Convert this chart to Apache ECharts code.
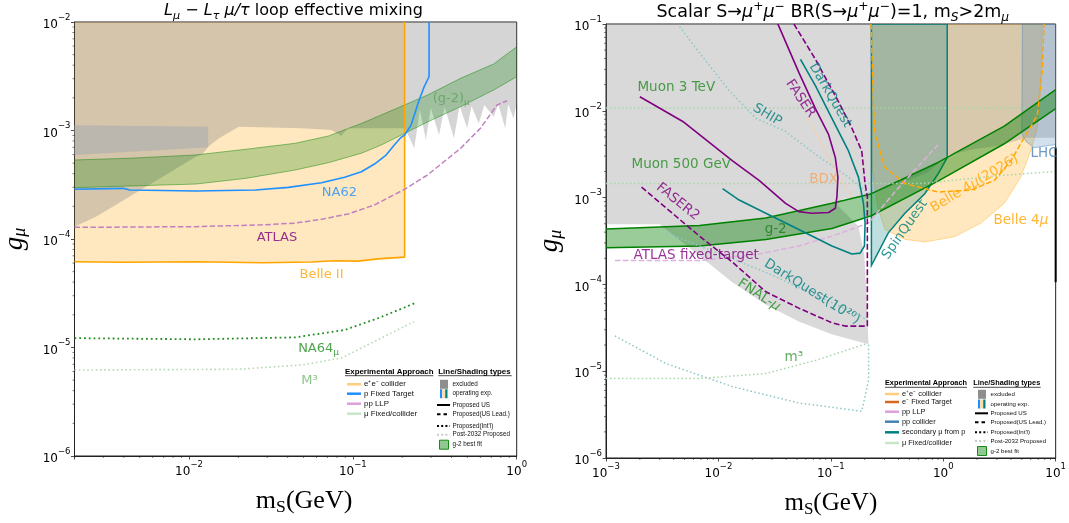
<!DOCTYPE html>
<html><head><meta charset="utf-8">
<script src="https://cdn.jsdelivr.net/npm/echarts@6/dist/echarts.min.js"></script>
<style>html,body{margin:0;padding:0;background:#fff}#c{width:1069px;height:523px}</style>
</head><body><div id="c"></div>
<script>
// ================= LEFT PANEL DATA  (m_S [GeV], g_mu) =================
const leftBelleII = [[0.002,6.18e-5],[0.00395,6.1e-5],[0.011,6.18e-5],[0.0279,6.05e-5],[0.056,6.14e-5],[0.0776,6.3e-5],[0.1076,6.25e-5],[0.1423,6.56e-5],[0.207,6.8e-5],[0.207,1e-2],[0.002,1e-2]];
const leftExcluded = [[0.002,0.01],[1,0.01],[1,1.79e-3],[0.957,1.29e-3],[0.888,1.75e-3],[0.851,1.05e-3],[0.772,1.75e-3],[0.723,1.34e-3],[0.635,1.72e-3],[0.587,1.16e-3],[0.53,1.68e-3],[0.499,1.05e-3],[0.448,1.68e-3],[0.414,8.47e-4],[0.3636,1.65e-3],[0.3355,9.1e-4],[0.299,1.61e-3],[0.279,8.17e-4],[0.2565,1.55e-3],[0.237,6.85e-4],[0.208,1.05e-3],[0.0927,1.05e-3],[0.0852,8.89e-4],[0.0741,1.01e-3],[0.0488,1.05e-3],[0.02015,1.08e-3],[0.01524,8.47e-4],[0.01325,7.19e-4],[0.01208,6.07e-4],[0.011,5.74e-4],[0.00691,3.75e-4],[0.00435,2.46e-4],[0.00272,1.61e-4],[0.002,1.30e-4]];
const leftExcludedBlock = [[0.002,1.12e-3],[0.01307,1.08e-3],[0.01307,7.0e-4],[0.002,5.94e-4]];
const leftGm2Upper = [[0.002,5.35e-4],[0.00435,5.55e-4],[0.011,5.95e-4],[0.0221,6.71e-4],[0.0444,7.62e-4],[0.0708,8.89e-4],[0.1127,1.16e-3],[0.207,1.72e-3],[0.2856,2.12e-3],[0.455,3.03e-3],[0.723,4.1e-3],[1.0,5.9e-3]];
const leftGm2Lower = [[0.002,2.97e-4],[0.00435,3.08e-4],[0.011,3.21e-4],[0.0221,3.62e-4],[0.0444,4.32e-4],[0.0708,5.05e-4],[0.1127,6.17e-4],[0.149,7.35e-4],[0.207,9.42e-4],[0.2856,1.2e-3],[0.455,1.66e-3],[0.723,2.36e-3],[1.0,3.13e-3]];
const leftNA62 = [[0.002,2.87e-4],[0.00396,2.93e-4],[0.00435,2.83e-4],[0.011,2.77e-4],[0.0254,2.83e-4],[0.0404,2.99e-4],[0.0644,3.3e-4],[0.0891,3.71e-4],[0.1127,4.17e-4],[0.1355,4.91e-4],[0.1596,5.94e-4],[0.179,7.35e-4],[0.197,8.65e-4],[0.207,9.09e-4],[0.2263,1.12e-3],[0.254,1.91e-3],[0.2723,2.53e-3],[0.2918,3.13e-3],[0.2918,1e-2]];
const leftATLAS = [[0.002,1.28e-4],[0.011,1.30e-4],[0.0279,1.35e-4],[0.0444,1.40e-4],[0.0644,1.52e-4],[0.0935,1.70e-4],[0.1355,2.06e-4],[0.207,2.87e-4],[0.2856,3.89e-4],[0.455,6.86e-4],[0.601,1.05e-3],[0.759,1.72e-3],[0.873,1.88e-3]];
const leftNA64 = [[0.002,1.22e-5],[0.011,1.19e-5],[0.0444,1.24e-5],[0.0891,1.45e-5],[0.1423,1.86e-5],[0.179,2.14e-5],[0.237,2.55e-5]];
const leftM3 = [[0.002,6.2e-6],[0.02,6.3e-6],[0.0488,6.9e-6],[0.0852,8.0e-6],[0.149,1.22e-5],[0.236,1.73e-5]];
const leftLabels = [['NA62',0.0828,2.65e-4],['ATLAS',0.0344,1.03e-4],['Belle II',0.0644,4.66e-5],['(g-2){s|μ}',0.399,1.98e-3],['NA64{s|μ}',0.0618,9.7e-6],['M³',0.0544,5.0e-6]];

// ================= RIGHT PANEL DATA =================
const rightExcluded = [[0.001,0.1],[10,0.1],[10,4.88e-3],[5.61,4.88e-3],[3.05,3.95e-3],[1.758,3.56e-3],[1.078,3.05e-3],[0.733,1.96e-3],[0.492,1.59e-3],[0.3275,1.32e-3],[0.2313,1.1e-3],[0.2203,1.02e-3],[0.1298,9.69e-4],[0.1125,8.3e-4],[0.176,4.68e-4],[0.199,2.14e-4],[0.2075,7.55e-5],[0.216,2.05e-5],[0.1016,2.66e-5],[0.0519,3.73e-5],[0.0265,5.82e-5],[0.01328,1.06e-4],[0.00678,2.14e-4],[0.003,4.92e-4],[0.001,4.92e-4]];
const rightBelle4mu = [[0.228,0.1],[0.235,2e-3],[0.26,8e-4],[0.303,4.29e-4],[0.456,3.3e-4],[0.685,3.08e-4],[1.26,3.54e-4],[2.17,5.09e-4],[3.49,8.57e-4],[4.9,1.72e-3],[6.0,3.45e-3],[6.88,6.33e-3],[7.35,1.95e-2],[7.62,0.1]];
const rightBelle2026 = [[0.228,0.1],[0.239,1.27e-2],[0.247,5.31e-3],[0.303,2.23e-3],[0.456,1.45e-3],[0.898,1.16e-3],[1.769,1.22e-3],[2.85,1.58e-3],[3.99,2.65e-3],[5.24,4.88e-3],[6.88,8.93e-3],[7.62,3.02e-2],[7.88,0.1]];
const rightLHC = [[5.06,0.1],[5.0,5.5e-3],[5.42,4.47e-3],[6.43,3.76e-3],[10,4.09e-3],[10,0.1]];
const rightSpinQuest = [[0.2296,0.1],[0.2296,1.65e-4],[0.3245,3.93e-4],[0.456,6.61e-4],[0.685,1.11e-3],[0.898,1.87e-3],[1.085,2.9e-3],[1.085,0.1]];
const rightGm2Upper = [[0.001,4.36e-4],[0.00678,4.76e-4],[0.0264,5.81e-4],[0.1023,8.6e-4],[0.2296,1.11e-3],[0.898,2.54e-3],[3.49,6.67e-3],[10,1.75e-2]];
const rightGm2Lower = [[0.001,2.65e-4],[0.00678,2.77e-4],[0.0264,3.3e-4],[0.1023,4.4e-4],[0.2296,6.18e-4],[0.898,1.55e-3],[3.49,4.17e-3],[10,1.06e-2]];
const rightFASER = [[0.002,1.45e-2],[0.00482,7.53e-3],[0.01336,2.65e-3],[0.023,1.58e-3],[0.0396,8.57e-4],[0.0519,6.9e-4],[0.0681,6.61e-4],[0.0956,6.73e-4],[0.1096,7.54e-4],[0.1133,1.02e-3],[0.1156,1.72e-3],[0.1096,2.9e-3],[0.0956,5.31e-3],[0.0729,1.06e-2],[0.0519,2.77e-2],[0.0346,0.0932],[0.0337,0.1]];
const rightFASER2 = [[0.00207,1.32e-3],[0.00678,3.6e-4],[0.01336,1.8e-4],[0.0264,8.22e-5],[0.0519,5.33e-5],[0.1023,3.61e-5],[0.1343,3.31e-5],[0.2113,3.31e-5],[0.2113,1.02e-3],[0.2017,1.45e-3],[0.1883,3.45e-3],[0.1537,6.33e-3],[0.1172,1.27e-2],[0.0729,3.92e-2],[0.0485,0.0932],[0.047,0.1]];
const rightDarkQuest = [[0.01089,1.27e-3],[0.0153,9.37e-4],[0.0264,6.61e-4],[0.0519,4.29e-4],[0.1023,2.77e-4],[0.1537,2.24e-4],[0.1825,2.29e-4],[0.199,2.77e-4],[0.2017,5.09e-4],[0.195,8.57e-4],[0.176,1.72e-3],[0.1436,3.45e-3],[0.1023,8.2e-3],[0.0729,1.95e-2],[0.0537,3.92e-2]];
const rightSHIP = [[0.00451,0.0932],[0.00678,4.67e-2],[0.01247,1.71e-2],[0.0215,8.2e-3],[0.0396,5.8e-3],[0.0729,3.16e-3],[0.1436,1.72e-3],[0.2167,1.11e-3]];
const rightDarkQuest1e20 = [[0.00344,3.93e-4],[0.00953,2.33e-4],[0.0264,1.38e-4],[0.0729,7.55e-5],[0.176,4.48e-5],[0.2167,3.77e-5]];
const rightATLASft = [[0.0012,1.88e-4],[0.00678,1.88e-4],[0.023,2.24e-4],[0.0519,2.77e-4],[0.1023,3.6e-4],[0.2167,5.09e-4],[0.3835,1.22e-3],[0.929,4.27e-3]];
const rightMuon3TeV = [[0.001,1.08e-2],[5.3,1.08e-2]];
const rightMuon500 = [[0.001,1.45e-3],[0.64,1.45e-3],[0.9,1.52e-3],[3.0,1.78e-3],[10,2.0e-3]];
const rightM3a = [[0.0012,2.55e-5],[0.00344,1.22e-5],[0.01336,6.64e-6],[0.0519,4.3e-6],[0.1884,3.46e-6],[0.2167,7.88e-6],[0.2167,2.05e-5]];
const rightM3b = [[0.001,8.24e-6],[0.00678,8.24e-6],[0.0264,9.4e-6],[0.0729,1.33e-5],[0.2017,2.05e-5]];
const rightBDX = [[0.0615,8.57e-3],[0.0893,3.45e-3],[0.1172,1.72e-3],[0.1537,1.02e-3]];
const rightEdgeLine = [[10,3.76e-3],[10,1.06e-4]];
const rightLabels = [['Muon 3 TeV',4.22e-3,1.84e-2],['Muon 500 GeV',4.67e-3,2.43e-3],['SHIP',0.0272,8.93e-3],['FASER',0.0537,1.38e-2],['DarkQuest',0.099,1.51e-2],['BDX',0.0863,1.6e-3],['FASER2',4.35e-3,8.95e-4],['g-2',0.0323,4.29e-4],['ATLAS fixed-target',6.34e-3,2.18e-4],['DarkQuest(10²⁰)',0.0681,8.22e-5],['FNAL-{i|μ}',0.023,7.55e-5],['m³',0.0469,1.45e-5],['SpinQuest',0.456,4.29e-4],['Belle 4{i|μ}(2026)',1.895,1.45e-3],['Belle 4{i|μ}',4.9,5.47e-4],['LHC',7.88,3.21e-3]];

// legend entries
const legendApproachL = ['e⁺e⁻ collider','p Fixed Target','pp LLP','μ Fixed/collider'];
const legendApproachR = ['e⁺e⁻ collider','e⁻ Fixed Target','pp LLP','pp collider','secondary μ from p','μ Fixed/collider'];
const legendTypes = ['excluded','operating exp.','Proposed US','Proposed(US Lead.)',"Proposed(Int'l)",'Post-2032 Proposed','g-2 best fit'];

// ================= STYLES =================
const FONT='DejaVu Sans', SERIF='Liberation Serif', SANS='Liberation Sans';
const leftLabelStyle=[{c:'#1E90FF'},{c:'#800080'},{c:'#FFA500'},{c:'#5FA35F'},{c:'#228B22'},{c:'#6DB56D'}];
const rightLabelStyle=[{c:'#228B22'},{c:'#228B22'},{c:'#008080',r:-31},{c:'#800080',r:-56},{c:'#008080',r:-60},{c:'#F4A460'},{c:'#800080',r:-39},{c:'#1E7B1E'},{c:'#800080'},{c:'#008080',r:-32},{c:'#228B22',r:-33},{c:'#3A9A3A'},{c:'#008080',r:55},{c:'#FFA500',r:31},{c:'#FFA500'},{c:'#4682B4'}];
const approachColor={'e⁺e⁻ collider':'#FFCC80','p Fixed Target':'#1E90FF','pp LLP':'#DDA0DD','μ Fixed/collider':'#C8E6C8','e⁻ Fixed Target':'#D2691E','pp collider':'#4682B4','secondary μ from p':'#008080'};

function poly(i, pts, fill, stroke, lw){
  return {type:'custom', xAxisIndex:i, yAxisIndex:i, data:pts, clip:true, silent:true, z:2,
    renderItem:function(params, api){ if(params.dataIndex!==0) return null;
      return {type:'polygon', shape:{points:pts.map(p=>api.coord(p))}, style:{fill:fill, stroke:stroke||'none', lineWidth:lw||0}}; }};
}
function band(i, up, lo, fill){ return poly(i, up.concat(lo.slice().reverse()), fill); }
function line(i, pts, color, lw, type, noClip){
  return {type:'line', xAxisIndex:i, yAxisIndex:i, data:pts, showSymbol:false, symbol:'none', silent:true, z:3, clip:!noClip,
    lineStyle:{color:color, width:lw, type:type||'solid', cap:'butt'}};
}
const DOT = lw=>[lw, lw*1.65], DASH = lw=>[lw*3.7, lw*1.6];
function labels(i, items, styles, fs){
  return {type:'scatter', xAxisIndex:i, yAxisIndex:i, symbolSize:0, silent:true, z:10,
    data: items.map((it,k)=>({value:[it[1],it[2]], label:{show:true, position:'inside', formatter:it[0], color:styles[k].c, rotate:styles[k].r||0,
      fontFamily:FONT, fontSize:fs, lineHeight:fs+4,
      rich:{s:{fontSize:fs*0.7, color:styles[k].c, verticalAlign:'bottom', lineHeight:fs*0.9, fontFamily:FONT},
            i:{fontStyle:'italic', color:styles[k].c, fontSize:fs, fontFamily:FONT}}}}))};
}
function minorVals(lo, hi){ const out=[]; for(let e=Math.floor(Math.log10(lo)); e<=Math.ceil(Math.log10(hi)); e++) for(let k=2;k<=9;k++){const v=k*Math.pow(10,e); if(v>=lo*0.999 && v<=hi*1.001) out.push(v);} return out; }
function minorTicks(i, xr, yr){
  const d = minorVals(xr[0],xr[1]).map(v=>[v,yr[0],0]).concat(minorVals(yr[0],yr[1]).map(v=>[xr[0],v,1]));
  return {type:'custom', xAxisIndex:i, yAxisIndex:i, data:d, clip:false, silent:true, z:10,
    renderItem:function(p, api){ const c=api.coord([api.value(0),api.value(1)]); const isY=api.value(2)===1;
      return {type:'line', shape: isY?{x1:c[0]-2,y1:c[1],x2:c[0],y2:c[1]}:{x1:c[0],y1:c[1],x2:c[0],y2:c[1]+2}, style:{stroke:'#222', lineWidth:0.6}}; }};
}
function tickFmt(v){ const e=Math.log10(v), r=Math.round(e); if(Math.abs(e-r)>1e-6) return ''; return '{b|10}{s|'+(r<0?'−':'')+Math.abs(r)+'}'; }
const tickRich={b:{fontSize:12, fontFamily:FONT, color:'#000', lineHeight:18, verticalAlign:'bottom'}, s:{fontSize:8.5, fontFamily:FONT, color:'#000', lineHeight:12, verticalAlign:'top'}};
function xAx(i, min, max, fs, pad){ return {gridIndex:i, type:'log', logBase:10, min:min, max:max,
  name:'{m|m}{s|S}{m|(GeV)}', nameLocation:'middle', nameGap:30,
  nameTextStyle:{color:'#000', fontFamily:SERIF, fontSize:fs, padding:pad, rich:{m:{fontFamily:SERIF,fontSize:fs,lineHeight:30,color:'#000'}, s:{fontFamily:SERIF,fontSize:fs*0.68,lineHeight:18,verticalAlign:'bottom',color:'#000'}}},
  axisLine:{lineStyle:{color:'#222',width:1}}, axisTick:{length:3.5, lineStyle:{color:'#222',width:0.8}},
  axisLabel:{formatter:tickFmt, rich:tickRich, margin:4}, splitLine:{show:false}, minorTick:{show:false}}; }
function yAx(i, min, max, gap){ return {gridIndex:i, type:'log', logBase:10, min:min, max:max,
  name:'{g|g}{s|μ}', nameLocation:'middle', nameGap:gap, nameRotate:90,
  nameTextStyle:{color:'#000', fontFamily:SERIF, fontSize:27, rich:{g:{fontFamily:SERIF,fontStyle:'italic',fontSize:27,lineHeight:30,color:'#000'}, s:{fontFamily:SERIF,fontStyle:'italic',fontSize:18,lineHeight:18,verticalAlign:'bottom',color:'#000'}}},
  axisLine:{lineStyle:{color:'#222',width:1}}, axisTick:{length:3.5, lineStyle:{color:'#222',width:0.8}},
  axisLabel:{formatter:tickFmt, rich:tickRich, margin:4}, splitLine:{show:false}}; }

// legend graphic
function legend(o){
  const g=[];
  g.push({type:'text', x:o.hx1, y:o.hy, style:{text:'Experimental Approach', fontFamily:SANS, fontWeight:'bold', fontSize:o.hf, fill:'#000', verticalAlign:'middle'}});
  g.push({type:'line', shape:{x1:o.hx1, y1:o.hy+4, x2:o.hx1+o.hw1, y2:o.hy+4}, style:{stroke:'#000', lineWidth:0.7}});
  g.push({type:'text', x:o.hx2, y:o.hy, style:{text:'Line/Shading types', fontFamily:SANS, fontWeight:'bold', fontSize:o.hf, fill:'#000', verticalAlign:'middle'}});
  g.push({type:'line', shape:{x1:o.hx2, y1:o.hy+4, x2:o.hx2+o.hw2, y2:o.hy+4}, style:{stroke:'#000', lineWidth:0.7}});
  o.approach.forEach((n,k)=>{ const y=o.ay[k];
    g.push({type:'line', shape:{x1:o.sx1, y1:y, x2:o.sx1+14, y2:y}, style:{stroke:approachColor[n], lineWidth:2.5}});
    g.push({type:'text', x:o.sx1+17, y:y, style:{text:n, fontFamily:SANS, fontSize:o.af, fill:'#111', verticalAlign:'middle'}});
  });
  const x=o.sx2;
  legendTypes.forEach((n,k)=>{ const y=o.ty[k];
    if(k===0) g.push({type:'rect', shape:{x:x+1, y:y-4.5, width:8, height:9}, style:{fill:'#8E8E8E'}});
    if(k===1){ g.push({type:'rect', shape:{x:x+1, y:y-4.5, width:2.2, height:9}, style:{fill:'#1E90FF'}});
      g.push({type:'rect', shape:{x:x+3.2, y:y-4.5, width:3, height:9}, style:{fill:'#FFDDA8'}});
      g.push({type:'rect', shape:{x:x+6.2, y:y-4.5, width:2.3, height:9}, style:{fill:'#008080'}}); }
    if(k>=2 && k<=5){ const dash=[null,null,'solid',[3.5,3],[2,2.2],[2,2.2]][k];
      g.push({type:'line', shape:{x1:x-2, y1:y, x2:x+11, y2:y}, style:{stroke:k===5?'#C8C8C8':'#000', lineWidth:2, lineDash:dash==='solid'?null:dash}}); }
    if(k===6) g.push({type:'rect', shape:{x:x+0.5, y:y-4.5, width:9, height:9}, style:{fill:'#90C990', stroke:'#1A8A1A', lineWidth:1}});
    g.push({type:'text', x:x+13.5, y:y, style:{text:n, fontFamily:SANS, fontSize:o.tf, fill:'#111', verticalAlign:'middle'}});
  });
  return g;
}

const L={xr:[0.002,1], yr:[1e-6,1e-2]}, R={xr:[0.001,10], yr:[1e-6,0.1]};
function titleRich(fs){ const ss=fs*0.7; return {i:{fontStyle:'italic',fontFamily:FONT,fontSize:fs,lineHeight:fs+6,fill:'#000'}, sub:{fontStyle:'italic',fontFamily:FONT,fontSize:ss,lineHeight:ss+2,verticalAlign:'bottom',fill:'#000'},
  sup:{fontFamily:FONT,fontSize:ss,lineHeight:ss+2,verticalAlign:'top',fill:'#000'}, r:{fontFamily:FONT,fontSize:fs,lineHeight:fs+6,fill:'#000'}}; }

const chart=echarts.init(document.getElementById('c'),null,{renderer:'canvas'});
chart.setOption({
  animation:false, backgroundColor:'#fff',
  grid:[{left:71.7, top:22, width:445, height:434, show:true, borderColor:'#222', borderWidth:1, backgroundColor:'transparent', containLabel:false},
        {left:606, top:24, width:452.3, height:442, show:true, borderColor:'#222', borderWidth:1, backgroundColor:'transparent', containLabel:false}],
  xAxis:[xAx(0,L.xr[0],L.xr[1],26,[0,0,0,17]), xAx(1,R.xr[0],R.xr[1],25,0)],
  yAxis:[yAx(0,L.yr[0],L.yr[1],45), yAx(1,R.yr[0],R.yr[1],41)],
  graphic:[
    {type:'text', x:293.5, y:11, z:100, style:{text:'{i|L}{sub|μ}{r| − }{i|L}{sub|τ}{r| }{i|μ/τ}{r| loop effective mixing}', rich:titleRich(16), align:'center', verticalAlign:'middle'}},
    {type:'text', x:832.8, y:12.5, z:100, style:{text:'{r|Scalar S→}{i|μ}{sup|+}{i|μ}{sup|−}{r| BR(S→}{i|μ}{sup|+}{i|μ}{sup|−}{r|)=1, m}{sub|S}{r|>2m}{sub|μ}', rich:titleRich(17.5), align:'center', verticalAlign:'middle'}},
  ].concat(legend({hx1:345, hx2:438.3, hy:371.7, hw1:88.3, hw2:73.4, hf:7.9, af:7.9, tf:6.3, sx1:347, ay:[384.3,393.7,403.7,413.7], sx2:439, ty:[384.3,393.7,405,414.3,426,434.7,444.7], approach:legendApproachL}))
   .concat(legend({hx1:885, hx2:973.3, hy:383.3, hw1:82, hw2:67.4, hf:7.3, af:7.4, tf:6.1, sx1:885, ay:[394,402,411.7,421.7,432.3,443], sx2:977, ty:[394.3,404,413.3,422.3,432.3,441,451], approach:legendApproachR}))
   .map(e=>Object.assign({z:100},e)),
  series:[
    // left
    poly(0,leftBelleII,'rgba(255,165,0,0.25)'),
    poly(0,leftExcluded,'rgba(128,128,128,0.33)'),
    poly(0,leftExcludedBlock,'rgba(175,175,175,0.7)'),
    band(0,leftGm2Upper,leftGm2Lower,'rgba(0,128,0,0.25)'),
    line(0,leftGm2Upper,'rgba(0,128,0,0.45)',1),
    line(0,leftGm2Lower,'rgba(0,128,0,0.45)',1),
    line(0,leftBelleII.slice(0,10),'#FFA500',1.6),
    line(0,leftATLAS,'#C080C0',1.5,DASH(1.5)),
    line(0,leftNA62,'#1E90FF',1.6),
    line(0,leftNA64,'#228B22',1.8,DOT(1.8)),
    line(0,leftM3,'#B5DAB5',1.6,DOT(1.6)),
    labels(0,leftLabels,leftLabelStyle,13),
    minorTicks(0,L.xr,L.yr),
    // right
    poly(1,rightBelle4mu,'rgba(255,165,0,0.25)','rgba(255,165,0,0.35)',1),
    poly(1,rightExcluded,'rgba(128,128,128,0.3)'),
    poly(1,rightLHC,'rgba(70,130,180,0.25)','rgba(70,130,180,0.45)',1),
    poly(1,rightSpinQuest,'rgba(0,128,128,0.25)','#008080',1.5),
    band(1,rightGm2Upper,rightGm2Lower,'rgba(0,128,0,0.4)'),
    line(1,rightGm2Upper,'#008000',1.5),
    line(1,rightGm2Lower,'#008000',1.5),
    line(1,rightMuon3TeV,'#A8D5A8',1.5,DOT(1.5)),
    line(1,rightMuon500,'#A8D5A8',1.5,DOT(1.5)),
    line(1,rightM3b,'#A8D5A8',1.5,DOT(1.5)),
    line(1,rightM3a,'#8CC6C6',1.5,DOT(1.5)),
    line(1,rightSHIP,'#8CC6C6',1.5,DOT(1.5)),
    line(1,rightDarkQuest1e20,'#8CC6C6',1.5,DOT(1.5)),
    line(1,rightATLASft,'#DDB0DD',1.5,DASH(1.5)),
    line(1,rightBDX,'#F6CFA8',1),
    line(1,rightBelle2026,'#FFA500',1.5,DASH(1.5)),
    line(1,rightFASER,'#800080',1.6),
    line(1,rightFASER2,'#800080',1.6,DASH(1.6)),
    line(1,rightDarkQuest,'#008080',1.6),
    line(1,rightEdgeLine,'#000',2,'solid',true),
    labels(1,rightLabels,rightLabelStyle,13.5),
    minorTicks(1,R.xr,R.yr)
  ]
});
</script></body></html>
